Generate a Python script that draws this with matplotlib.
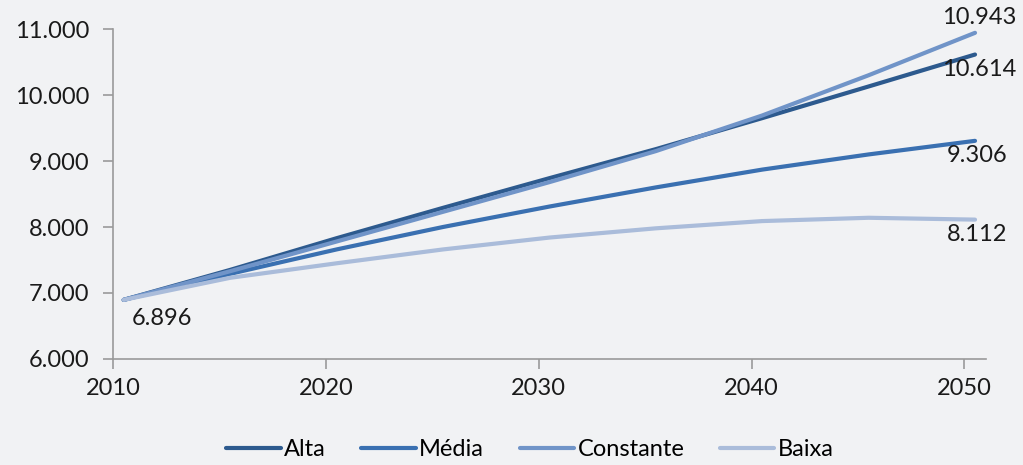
import matplotlib.pyplot as plt
from matplotlib.ticker import FuncFormatter

plt.rcParams['font.family'] = ['Lato', 'DejaVu Sans']

# mid-year values, 5-year steps (milhões)
anos = [2010, 2015, 2020, 2025, 2030, 2035, 2040, 2045, 2050]
alta = [6896, 7350, 7830, 8290, 8740, 9180, 9650, 10130, 10614]
media = [6896, 7290, 7660, 8000, 8310, 8600, 8870, 9100, 9306]
constante = [6896, 7330, 7780, 8230, 8680, 9150, 9690, 10300, 10943]
baixa = [6896, 7230, 7450, 7660, 7840, 7980, 8090, 8140, 8112]

series = [('Alta', alta, '#2d5a8e'),
          ('Média', media, '#3a70b1'),
          ('Constante', constante, '#7094c8'),
          ('Baixa', baixa, '#aabcda')]

bg = '#f1f2f4'
fs = 17
fig = plt.figure(figsize=(10.23, 4.65), dpi=100, facecolor=bg)
ax = fig.add_axes([0.1105, 0.228, 0.853, 0.7095])
ax.set_facecolor(bg)

xs = [a + 0.5 for a in anos]
for nome, vals, cor in series:
    ax.plot(xs, vals, color=cor, lw=3, label=nome, solid_capstyle='round')

ax.set_xlim(2010, 2051)
ax.set_ylim(6000, 11000)
ax.set_xticks([2010, 2020, 2030, 2040, 2050])
ax.set_yticks(range(6000, 11001, 1000))
ax.yaxis.set_major_formatter(FuncFormatter(lambda v, p: f'{int(v):,}'.replace(',', '.')))

for s in ['top', 'right']:
    ax.spines[s].set_visible(False)
for s in ['left', 'bottom']:
    ax.spines[s].set_color('#9a9a9a')
    ax.spines[s].set_linewidth(1.2)
ax.tick_params(axis='both', direction='out', length=7, width=1.2, color='#9a9a9a',
               labelsize=fs, labelcolor='#1a1a1a')
ax.tick_params(axis='y', pad=10)
ax.tick_params(axis='x', pad=7)

fmt = lambda v: f'{v:,}'.replace(',', '.')
ax.text(xs[-1] + 0.2, constante[-1] + 80, fmt(constante[-1]), ha='center', va='bottom', fontsize=fs, color='#1a1a1a')
ax.text(xs[-1] + 0.2, alta[-1] - 70, fmt(alta[-1]), ha='center', va='top', fontsize=fs, color='#1a1a1a')
ax.text(xs[-1] + 0.1, media[-1] - 70, fmt(media[-1]), ha='center', va='top', fontsize=fs, color='#1a1a1a')
ax.text(xs[-1] + 0.1, baixa[-1] - 70, fmt(baixa[-1]), ha='center', va='top', fontsize=fs, color='#1a1a1a')
ax.text(xs[0] + 1.8, alta[0] - 120, fmt(alta[0]), ha='center', va='top', fontsize=fs, color='#1a1a1a')

fig.legend(loc='lower center', bbox_to_anchor=(0.518, -0.035), ncol=4, frameon=False,
           fontsize=fs, handlelength=2.3, handletextpad=0.15, columnspacing=1.5)

fig.savefig('out.png', dpi=100, facecolor=bg)
